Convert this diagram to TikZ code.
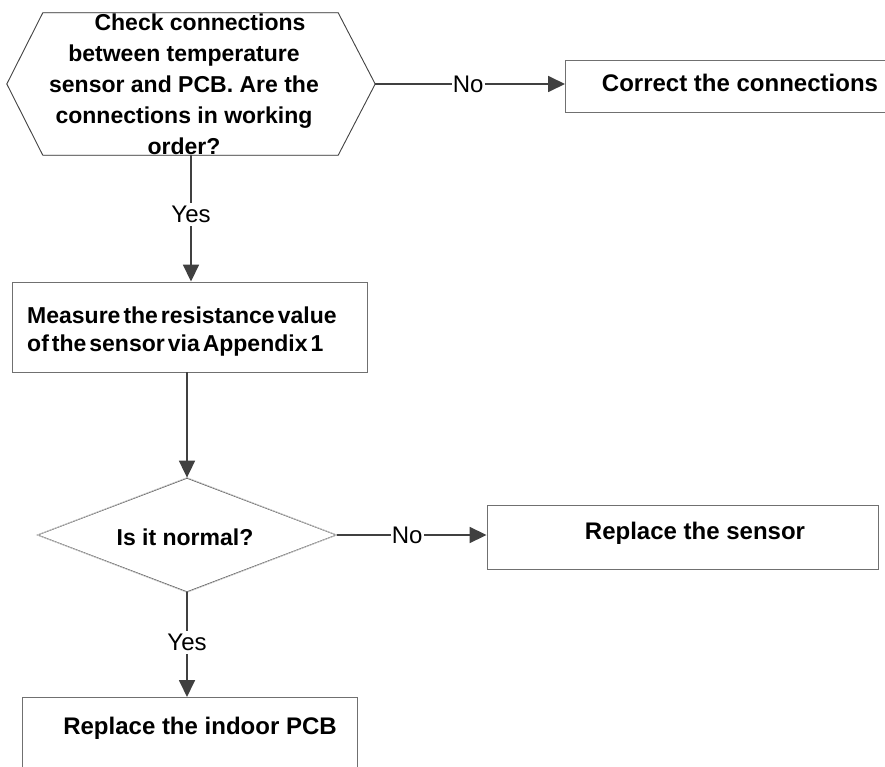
\documentclass[tikz,border=0pt]{standalone}
\usepackage{fontspec}
\setmainfont{Liberation Sans}
\usetikzlibrary{arrows.meta,shapes.geometric}
\definecolor{conncol}{HTML}{404040}
\definecolor{edgecol}{HTML}{707070}
\definecolor{shadcol}{HTML}{C8C8C8}
\newcommand{\tightspaces}{\spaceskip=3pt plus 1pt\relax}
\begin{document}
\begin{tikzpicture}[x=1pt,y=-1pt,
  conn/.style={draw=conncol, line width=1.8pt, -{Triangle[length=17pt,width=16pt]}},
  lbl/.style={fill=white, inner xsep=1pt, inner ysep=3pt, text=black, font=\fontsize{24}{27}\selectfont},
  btxt/.style={inner sep=0pt, align=center, font=\bfseries\fontsize{24}{31}\selectfont},
  boxshape/.style={draw=edgecol, line width=0.9pt, rectangle, inner sep=0pt},
  outline/.style={draw=conncol, line width=0.8pt},
  shadowline/.style={draw=shadcol, line width=0.8pt}]
\useasboundingbox (0,0) rectangle (885,767);
\clip (0,0) rectangle (885,767);
\fill[white] (0,0) rectangle (885,767);

% hexagon decision
\node[inner sep=0pt, minimum width=368pt, minimum height=142pt] (hex) at (191,84) {};
\begin{scope}[shift={(1.5pt,-2.5pt)}]
\draw[shadowline] (hex.west) -- ([xshift=36pt]hex.north west) -- ([xshift=-37pt]hex.north east) -- (hex.east) -- ([xshift=-37pt]hex.south east) -- ([xshift=36pt]hex.south west) -- cycle;
\end{scope}
\draw[outline] (hex.west) -- ([xshift=36pt]hex.north west) -- ([xshift=-37pt]hex.north east) -- (hex.east) -- ([xshift=-37pt]hex.south east) -- ([xshift=36pt]hex.south west) -- cycle;
\node[btxt, font=\bfseries\fontsize{23}{31}\selectfont] (hexT) at (184,84) {\hspace*{32pt}Check connections\\between temperature\\sensor and PCB. Are the\\connections in working\\order?};

% correct connections box
\draw[boxshape] (565,60) rectangle (905,112);
\node[inner sep=0pt, minimum width=340pt, minimum height=52pt, anchor=north west] (corr) at (565,60) {};
\node[btxt] (corrT) at (740,83) {Correct the connections};

% measure box
\node[boxshape, minimum width=355pt, minimum height=90pt] (meas) at (189.5,327) {};
\node[btxt, align=left, anchor=west, font=\bfseries\fontsize{23}{28}\selectfont\tightspaces] (measT) at (27,332) {Measure the resistance value\\of the sensor via Appendix 1};

% diamond
\node[diamond, outline, inner sep=0pt, aspect=2.6, minimum width=299pt, minimum height=114pt] (dia) at (187,535) {};
\begin{scope}[shift={(1.5pt,-2.5pt)}]
\draw[shadowline] (dia.north) -- (dia.east) -- (dia.south) -- (dia.west) -- cycle;
\end{scope}
\node[btxt, font=\bfseries\fontsize{23}{30}\selectfont] (diaT) at (185,537) {Is it normal?};

% replace sensor box
\node[boxshape, minimum width=391pt, minimum height=64pt] (sens) at (682.5,537) {};
\node[btxt] (sensT) at (695,533) {Replace the sensor};

% replace indoor PCB box
\draw[boxshape] (22,697) rectangle (357,800);
\node[inner sep=0pt, minimum width=335pt, minimum height=103pt, anchor=north west] (pcb) at (22,697) {};
\node[btxt] (pcbT) at (200,728) {Replace the indoor PCB};

% connectors
\draw[conn] (hex.east) -- node[lbl, pos=0.49] {No} (hex.east -| corr.west);
\draw[conn] (hex.south) -- node[lbl, pos=0.47] {Yes} (hex.south |- meas.north);
\draw[conn] (meas.south -| dia.north) -- (dia.north);
\draw[conn] (dia.east) -- node[lbl, pos=0.47] {No} (dia.east -| sens.west);
\draw[conn] (dia.south) -- node[lbl, pos=0.48] {Yes} (dia.south |- pcb.north);
\end{tikzpicture}
\end{document}
